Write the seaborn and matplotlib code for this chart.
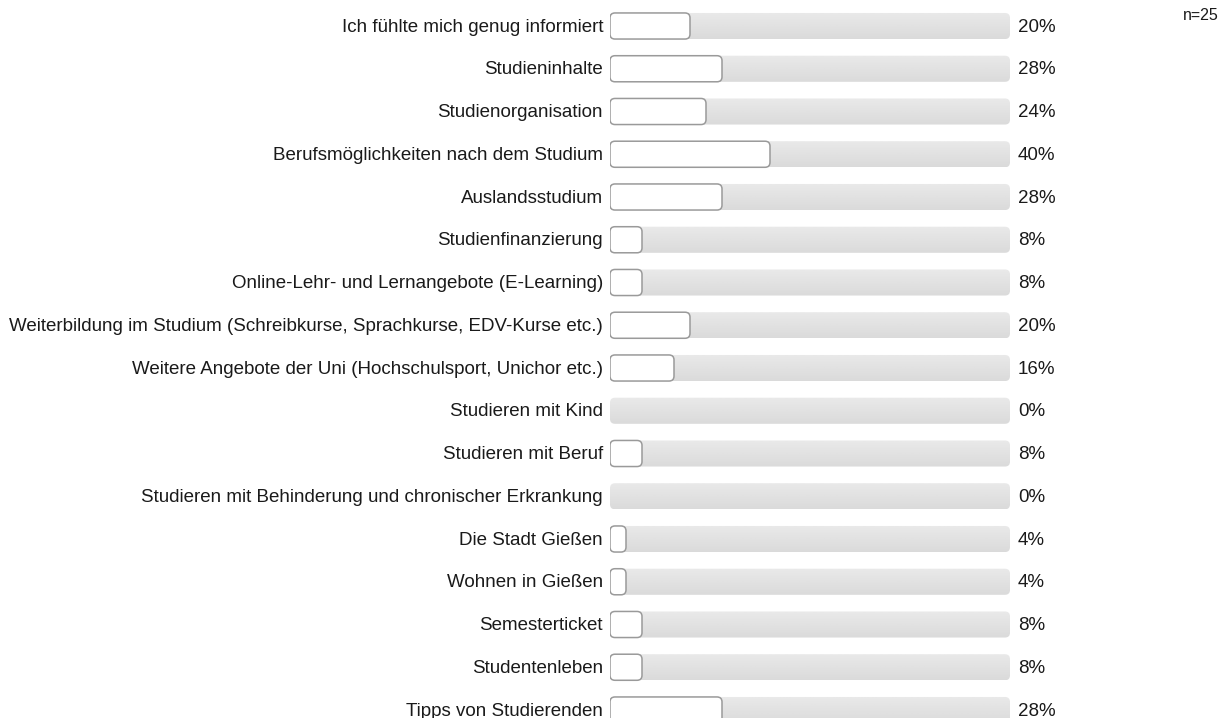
import numpy as np
import pandas as pd
import matplotlib
matplotlib.use("Agg")
import matplotlib.pyplot as plt
from matplotlib.patches import FancyBboxPatch
import seaborn as sns

categories = [
    "Ich fühlte mich genug informiert",
    "Studieninhalte",
    "Studienorganisation",
    "Berufsmöglichkeiten nach dem Studium",
    "Auslandsstudium",
    "Studienfinanzierung",
    "Online-Lehr- und Lernangebote (E-Learning)",
    "Weiterbildung im Studium (Schreibkurse, Sprachkurse, EDV-Kurse etc.)",
    "Weitere Angebote der Uni (Hochschulsport, Unichor etc.)",
    "Studieren mit Kind",
    "Studieren mit Beruf",
    "Studieren mit Behinderung und chronischer Erkrankung",
    "Die Stadt Gießen",
    "Wohnen in Gießen",
    "Semesterticket",
    "Studentenleben",
    "Tipps von Studierenden",
]
percent = [20, 28, 24, 40, 28, 8, 8, 20, 16, 0, 8, 0, 4, 4, 8, 8, 28]
n_total = 25

df = pd.DataFrame({"item": categories, "pct": percent, "track": [100] * len(categories)})

sns.set_theme(style="white")
plt.rcParams["font.family"] = ["Liberation Sans", "DejaVu Sans"]

W, H = 1222, 718
fig = plt.figure(figsize=(W / 100, H / 100), dpi=100)
ax_left, ax_right = 610, 1010
row0, row_step = 26, 42.75
ax = fig.add_axes([ax_left / W, 0, (ax_right - ax_left) / W, 1])

# background tracks (full scale) and response bars
sns.barplot(data=df, x="track", y="item", orient="h", color="#e2e2e2", width=0.61, ax=ax)
n_track = len(ax.patches)
sns.barplot(data=df, x="pct", y="item", orient="h", color="white", width=0.61, ax=ax)

ax.set_xlim(0, 100)
ax.set_ylim((H - row0) / row_step, -row0 / row_step)
ax.axis("off")

px_x = 100 / (ax_right - ax_left)          # data units per pixel along x
px_y = 1 / row_step                        # data units per pixel along y
aspect = px_y / px_x
radius = 5 * px_x

grad = np.linspace(0.915, 0.855, 64).reshape(-1, 1)
patches = list(ax.patches)
for i, p in enumerate(patches):
    x0, y0 = p.get_x(), p.get_y()
    w, h = p.get_width(), p.get_height()
    p.remove()
    if w <= 0:
        continue
    is_track = i < n_track
    if is_track:
        box = FancyBboxPatch((x0, y0), w, h,
                             boxstyle=f"round,pad=0,rounding_size={radius}",
                             mutation_aspect=aspect, facecolor="none",
                             edgecolor="none", zorder=1)
        ax.add_patch(box)
        img = ax.imshow(grad, cmap="gray", vmin=0, vmax=1, aspect="auto",
                        extent=(x0, x0 + w, y0 + h, y0), zorder=1,
                        interpolation="bilinear")
        img.set_clip_path(box)
    else:
        box = FancyBboxPatch((x0, y0), w, h,
                             boxstyle=f"round,pad=0,rounding_size={radius}",
                             mutation_aspect=aspect, facecolor="white",
                             edgecolor="#9a9a9a", linewidth=1.1, zorder=3)
        ax.add_patch(box)

ax.set_xlim(0, 100)
ax.set_ylim((H - row0) / row_step, -row0 / row_step)

txt = "#1a1a1a"
dy = 1.2 * px_y
for i, (name, v) in enumerate(zip(categories, percent)):
    ax.text(-7 * px_x, i + dy, name, ha="right", va="center", fontsize=13.5, color=txt)
    ax.text(100 + 8 * px_x, i + dy, f"{v}%", ha="left", va="center", fontsize=13.5, color=txt)

fig.text(1219 / W, 1 - 16 / H, f"n={n_total}", ha="right", va="center", fontsize=11.5, color=txt)

fig.savefig("out.png", dpi=100, facecolor="white")
